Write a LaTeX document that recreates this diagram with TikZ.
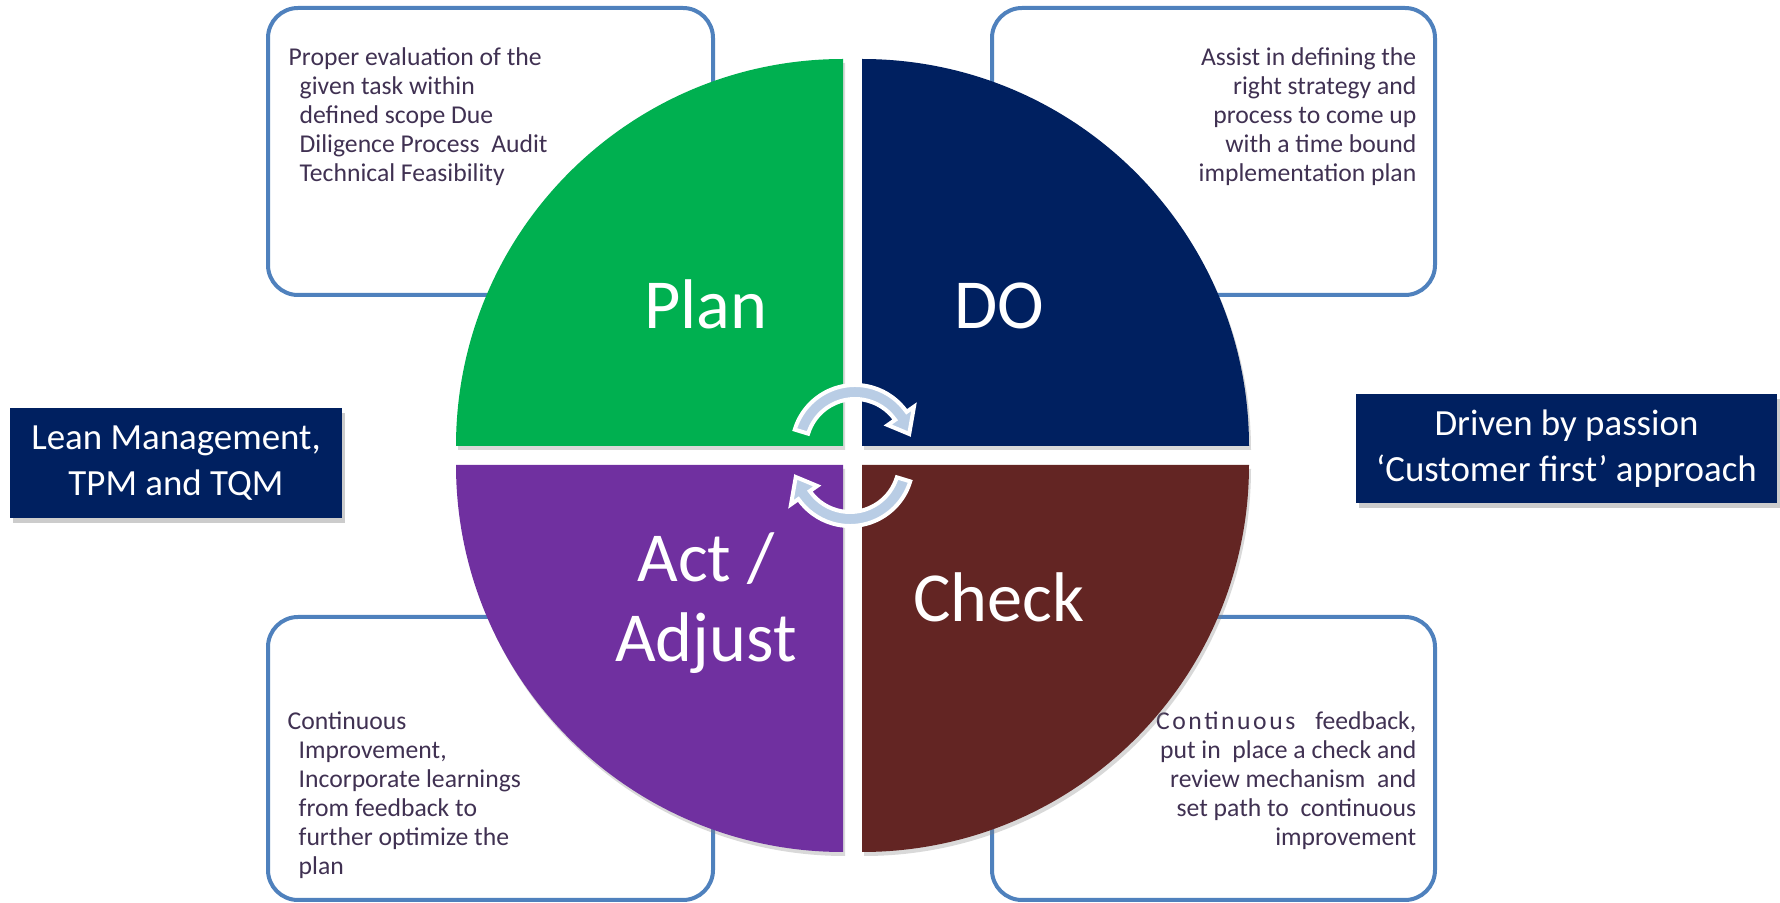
\documentclass[tikz,border=0pt]{standalone}
\usepackage{fontspec}
\setmainfont{Carlito}
\definecolor{plangreen}{RGB}{0, 176, 80}
\definecolor{donavy}{RGB}{0, 32, 96}
\definecolor{actpurple}{RGB}{112, 48, 160}
\definecolor{checkred}{RGB}{99, 37, 35}
\definecolor{boxblue}{RGB}{79, 129, 189}
\definecolor{bodytext}{RGB}{64, 49, 82}
\definecolor{cyclefill}{RGB}{185, 205, 229}
\usetikzlibrary{arrows.meta, positioning, calc, shadows}

\begin{document}
\begin{tikzpicture}[
  notebox/.style={draw=boxblue, line width=0.04cm, rounded corners=0.3cm, fill=white},
  notetext/.style={inner sep=0pt, text=bodytext, font=\fontsize{7.3}{8.25}\selectfont},
  quarter/.style={drop shadow={opacity=0.3, shadow xshift=0.02cm, shadow yshift=-0.04cm}},
  phase/.style={text=white, font=\fontsize{20}{22.7}\selectfont, align=center},
  sidebox/.style={fill=donavy, text=white, inner sep=0pt, align=center, font=\fontsize{10.5}{12.9}\selectfont,
    drop shadow={opacity=0.4, shadow xshift=0.03cm, shadow yshift=-0.05cm}},
  cyclearr/.style={draw=white, fill=cyclefill, line width=0.04cm}
]
  \useasboundingbox (0, 0) rectangle (17.8, 9.03);

  % ===== Note boxes =====
  \node[notebox, minimum width=4.45cm, minimum height=2.87cm] (planbox) at (4.905, 7.515) {};
  \node[notebox, minimum width=4.43cm, minimum height=2.87cm] (dobox) at (12.135, 7.515) {};
  \node[notebox, minimum width=4.45cm, minimum height=2.83cm] (actbox) at (4.905, 1.445) {};
  \node[notebox, minimum width=4.43cm, minimum height=2.83cm] (checkbox) at (12.135, 1.445) {};

  \node[notetext, anchor=north west, align=left] (plantext) at (2.88, 8.56) {Proper evaluation of the\\
    \hspace*{1.1mm}given task within\\
    \hspace*{1.1mm}defined scope Due\\
    \hspace*{1.1mm}Diligence Process~ Audit\\
    \hspace*{1.1mm}Technical Feasibility};
  \node[notetext, anchor=north east, align=right] (dotext) at (14.17, 8.56) {Assist in defining the\\
    right strategy and\\
    process to come up\\
    with a time bound\\
    implementation plan};
  \node[notetext, anchor=north west, align=left] (acttext) at (2.87, 1.92) {Continuous\\
    \hspace*{1.1mm}Improvement,\\
    \hspace*{1.1mm}Incorporate learnings\\
    \hspace*{1.1mm}from feedback to\\
    \hspace*{1.1mm}further optimize the\\
    \hspace*{1.1mm}plan};
  \node[notetext, anchor=north east, align=right] (checktext) at (14.17, 1.92) {{\addfontfeature{LetterSpace=10}Continuous}\hspace{2mm}feedback,\\
    put in~ place a check and\\
    review mechanism~ and\\
    set path to~ continuous\\
    improvement};

  % ===== PDCA circle =====
  \fill[plangreen, quarter] (8.43, 4.57) -- ++(-3.87, 0) arc[start angle=180, end angle=90, radius=3.87] -- cycle;
  \fill[donavy, quarter] (8.62, 4.57) -- ++(0, 3.87) arc[start angle=90, end angle=0, radius=3.87] -- cycle;
  \fill[actpurple, quarter] (8.43, 4.38) -- ++(0, -3.87) arc[start angle=270, end angle=180, radius=3.87] -- cycle;
  \fill[checkred, quarter] (8.62, 4.38) -- ++(3.87, 0) arc[start angle=0, end angle=-90, radius=3.87] -- cycle;

  \node[phase, anchor=base] (plan) at (7.06, 5.74) {Plan};
  \node[phase, anchor=base] (do) at (9.99, 5.74) {DO};
  \node[phase] (act) at (7.06, 3.00) {Act /\\Adjust};
  \node[phase, anchor=base] (check) at (9.99, 2.81) {Check};

  % Cycle arrows
  \draw[cyclearr, shift={(8.55, 4.55)}] (163:0.63) arc[start angle=163, end angle=35, radius=0.63]
    -- (35:0.72) -- (14.5:0.56) -- (35:0.40) -- (35:0.49) arc[start angle=35, end angle=163, radius=0.49] -- cycle;
  \draw[cyclearr, shift={(8.50, 4.40)}] (343:0.63) arc[start angle=343, end angle=215, radius=0.63]
    -- (215:0.72) -- (194.5:0.56) -- (215:0.40) -- (215:0.49) arc[start angle=215, end angle=343, radius=0.49] -- cycle;

  % ===== Side boxes =====
  \node[sidebox, minimum width=3.32cm, minimum height=1.10cm] (lean) at (1.76, 4.40) {Lean Management,\\TPM and TQM};
  \node[sidebox, minimum width=4.21cm, minimum height=1.09cm] (passion) at (15.665, 4.545) {Driven by passion\\`Customer first' approach};
\end{tikzpicture}
\end{document}
